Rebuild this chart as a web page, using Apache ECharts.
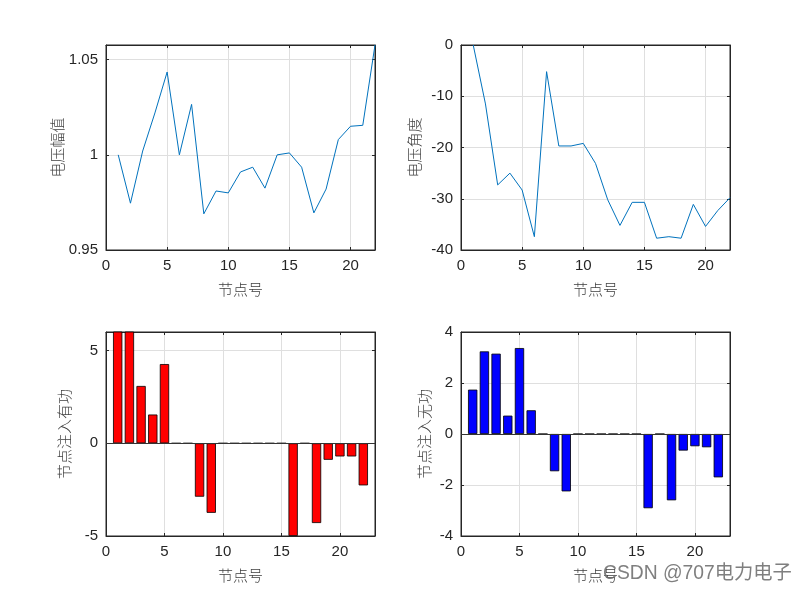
<!DOCTYPE html>
<html>
<head>
<meta charset="utf-8">
<script src="https://cdn.jsdelivr.net/npm/echarts@6/dist/echarts.min.js"></script>
<style>
html,body{margin:0;padding:0;background:#fff;}
#chart{width:807px;height:605px;}
</style>
</head>
<body>
<div id="chart"></div>
<script>
const nodes = [1,2,3,4,5,6,7,8,9,10,11,12,13,14,15,16,17,18,19,20,21,22];
const voltageMag = [1.000,0.9746,1.002,1.022,1.0435,1.000,1.0265,0.969,0.981,0.980,0.991,0.9935,0.9825,1.000,1.001,0.9935,0.9695,0.982,1.008,1.015,1.0155,1.0577];
const voltageAng = [0,-11.5,-27.3,-25.0,-28.3,-37.4,-5.2,-19.7,-19.7,-19.2,-23.1,-30.2,-35.2,-30.7,-30.7,-37.7,-37.4,-37.7,-31.1,-35.4,-32.3,-29.8];
const pInjection = [7.0,7.0,3.09,1.55,4.27,0,0,-2.88,-3.75,0,0,0,0,0,0,-5.0,0,-4.30,-0.89,-0.71,-0.71,-2.27];
const qInjection = [1.74,3.24,3.15,0.72,3.37,0.93,0,-1.46,-2.25,0,0,0,0,0,0,-2.91,0,-2.60,-0.65,-0.48,-0.52,-1.70];
const xLabel = '节点号';
const yLabels = ['电压幅值','电压角度','节点注入有功','节点注入无功'];

const pairs = vals => vals.map((v,i)=>[nodes[i], v]);

const textColor = '#262626';
const tickFont = {fontFamily:'Liberation Sans, Arial, sans-serif', fontSize:15, color:textColor};
const nameFont = {fontFamily:'Noto Sans CJK SC', fontSize:15, fontWeight:300, color:'#404040'};

const grids = [
  {left:106, top:45, width:269, height:205},
  {left:461, top:45, width:269, height:205},
  {left:106, top:332, width:269, height:204},
  {left:461, top:332, width:269, height:204}
];
const xRanges = [[0,22],[0,22],[0,23],[0,23]];
const yRanges = [[0.95,1.0577,0.05],[-40,0,10],[-5,6,5],[-4,4,2]];
const yNameGaps = [41,39,34,29];

const xAxis = [], yAxis = [];
for (let i=0;i<4;i++){
  xAxis.push({
    type:'value', gridIndex:i, min:xRanges[i][0], max:xRanges[i][1], interval:5,
    name:xLabel, nameLocation:'middle', nameGap:32, nameTextStyle:nameFont,
    axisLine:{show:true, onZero:false, lineStyle:{color:textColor, width:1}},
    axisTick:{inside:true, length:3, lineStyle:{color:textColor}},
    axisLabel:Object.assign({margin:8, showMaxLabel:false}, tickFont),
    splitLine:{show:true, lineStyle:{color:'#dfdfdf', width:1}}
  });
  yAxis.push({
    type:'value', gridIndex:i, min:yRanges[i][0], max:yRanges[i][1], interval:yRanges[i][2],
    name:yLabels[i], nameLocation:'middle', nameGap:yNameGaps[i], nameRotate:90, nameTextStyle:nameFont,
    axisLine:{show:true, onZero:false, lineStyle:{color:textColor, width:1}},
    axisTick:{inside:true, length:3, lineStyle:{color:textColor}},
    axisLabel:Object.assign({margin:8, showMaxLabel:(i===1||i===3)}, tickFont),
    splitLine:{show:true, lineStyle:{color:'#dfdfdf', width:1}}
  });
}
for (let i=0;i<4;i++){
  xAxis.push({
    type:'value', gridIndex:i, position:'top', min:xRanges[i][0], max:xRanges[i][1], interval:5,
    axisLine:{show:true, onZero:false, lineStyle:{color:textColor, width:1}},
    axisTick:{inside:true, length:3, lineStyle:{color:textColor}},
    axisLabel:{show:false}, splitLine:{show:false}
  });
  yAxis.push({
    type:'value', gridIndex:i, position:'right', min:yRanges[i][0], max:yRanges[i][1], interval:yRanges[i][2],
    axisLine:{show:true, onZero:false, lineStyle:{color:textColor, width:1}},
    axisTick:{inside:true, length:3, lineStyle:{color:textColor}},
    axisLabel:{show:false}, splitLine:{show:false}
  });
}

const baseline = {
  silent:true, symbol:'none', animation:false,
  label:{show:false},
  lineStyle:{color:'#333333', type:'solid', width:1},
  data:[{yAxis:0}]
};

const series = [
  {type:'line', xAxisIndex:0, yAxisIndex:0, data:pairs(voltageMag), showSymbol:false,
   lineStyle:{color:'#0072BD', width:1}, itemStyle:{color:'#0072BD'}},
  {type:'line', xAxisIndex:1, yAxisIndex:1, data:pairs(voltageAng), showSymbol:false,
   lineStyle:{color:'#0072BD', width:1}, itemStyle:{color:'#0072BD'}},
  {type:'bar', xAxisIndex:2, yAxisIndex:2, data:pairs(pInjection), barWidth:9.3, clip:true,
   itemStyle:{color:'#ff0000', borderColor:'#000000', borderWidth:0.8}, markLine:baseline},
  {type:'bar', xAxisIndex:3, yAxisIndex:3, data:pairs(qInjection), barWidth:9.3, clip:true,
   itemStyle:{color:'#0000ff', borderColor:'#000000', borderWidth:0.8}, markLine:baseline}
];

const chart = echarts.init(document.getElementById('chart'));
chart.setOption({
  animation:false,
  backgroundColor:'#ffffff',
  grid:grids.map(g=>Object.assign({show:true, borderColor:textColor, borderWidth:1, backgroundColor:'#ffffff'}, g)),
  xAxis:xAxis, yAxis:yAxis, series:series,
  graphic:[{
    type:'text', left:603, top:564, z:100,
    style:{text:'CSDN @707电力电子', fontFamily:'Liberation Sans, Noto Sans CJK SC', fontSize:19.3, fill:'rgba(105,105,105,0.85)'}
  }]
});
</script>
</body>
</html>
